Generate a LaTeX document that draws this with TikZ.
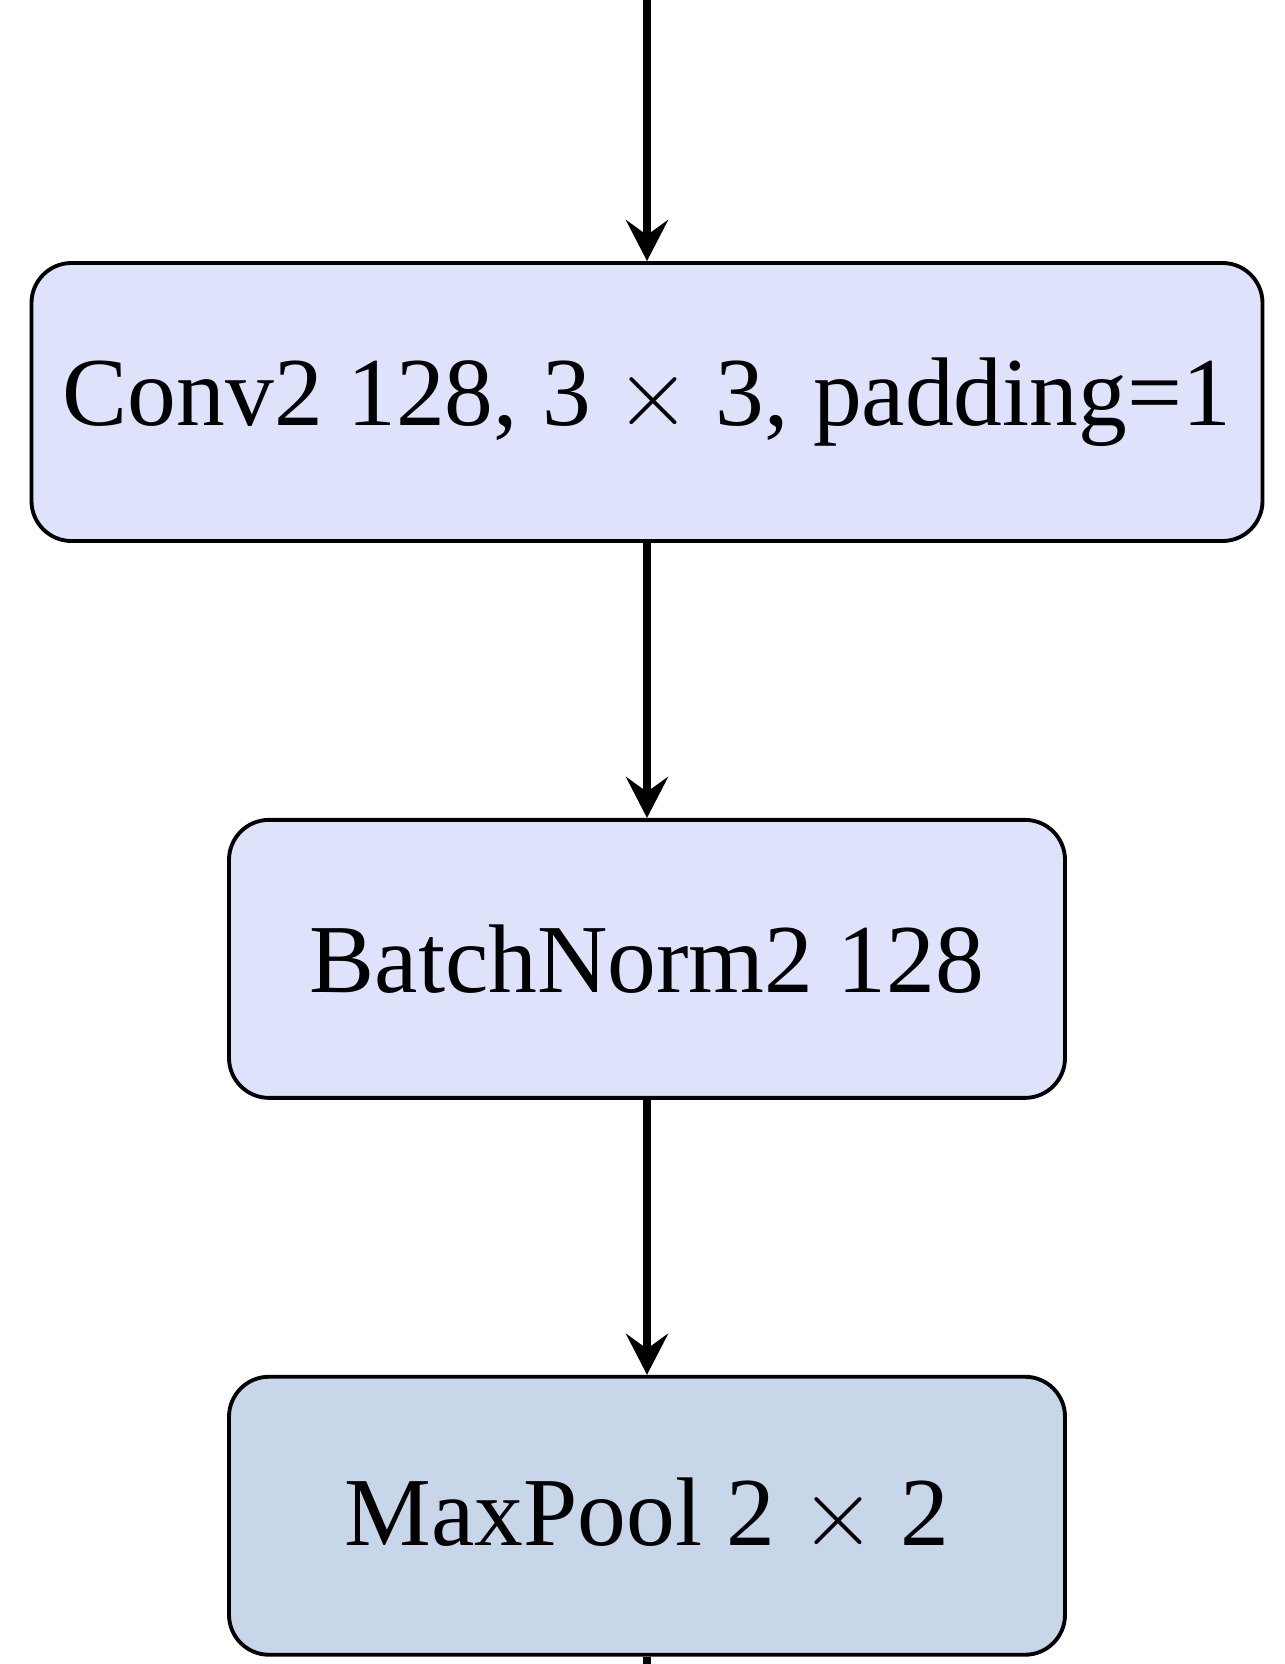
\RequirePackage{fix-cm}
\documentclass[tikz,border=0pt]{standalone}
\usepackage{fontspec}
\setmainfont{Liberation Serif}
\usetikzlibrary{arrows.meta,positioning}
\definecolor{convblue}{RGB}{223,226,251}
\definecolor{poolblue}{RGB}{200,214,233}
\def\boxsep{5.5cm}

\begin{document}
\begin{tikzpicture}[-{Stealth[length=0.82cm,width=0.84cm,inset=0.3cm]}, line width=4.3pt, draw=black, node distance=\boxsep]
            \tikzstyle{layer}=[rectangle, rounded corners=0.8cm, draw=black, line width=2.2pt, minimum height=5.56cm, inner sep=0pt, font=\fontsize{55.5}{66}\selectfont]
            \tikzstyle{convlayer}=[layer, fill=convblue]
            \tikzstyle{poollayer}=[layer, fill=poolblue]
            \useasboundingbox (0,0) rectangle (25.68,-33.28);

            % Draw the layer boxes
            \node[convlayer, minimum width=24.62cm] (L-1) at (12.94,-8.04) {Conv2 128, 3 $\times$ 3, padding=1};
            \node[convlayer, minimum width=16.72cm, below=of L-1] (L-2) {BatchNorm2 128};
            \node[poollayer, minimum width=16.72cm, below=of L-2] (L-3) {MaxPool 2 $\times$ 2};

            % Free ends above and below the picture
            \coordinate (in) at (12.94,0.5);
            \coordinate (out) at (12.94,-34);

            % Connect the layers one after the other
            \draw (in) -- (L-1);
            \foreach \source/\dest in {1/2,2/3}
                \draw (L-\source) -- (L-\dest);
            \draw[-] (L-3) -- (out);

\end{tikzpicture}
\end{document}
